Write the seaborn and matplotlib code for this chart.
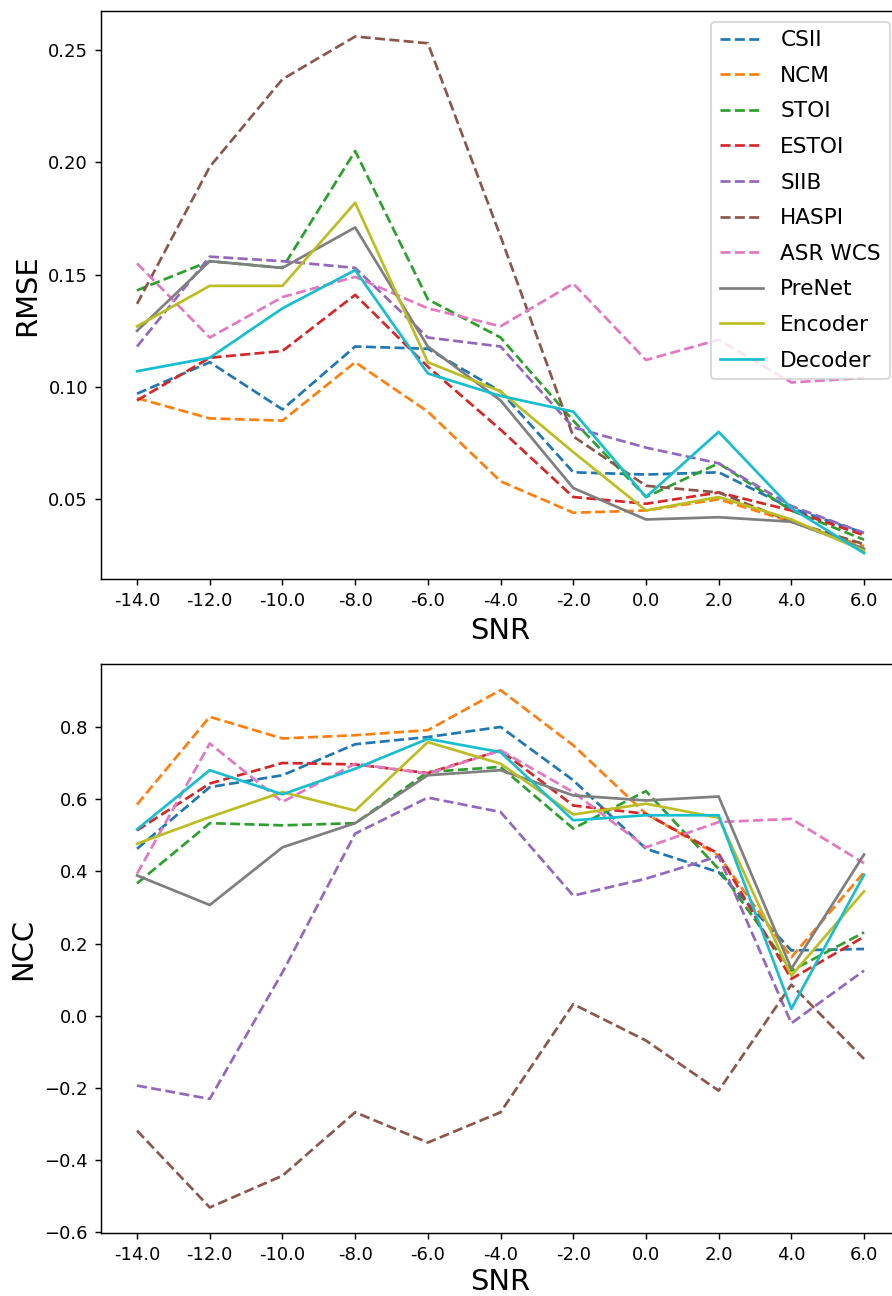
import matplotlib
matplotlib.use("Agg")
import matplotlib.pyplot as plt
import seaborn as sns
import pandas as pd

snr = [-14.0, -12.0, -10.0, -8.0, -6.0, -4.0, -2.0, 0.0, 2.0, 4.0, 6.0]
snr_labels = [f"{v:.1f}" for v in snr]

metrics = ["CSII", "NCM", "STOI", "ESTOI", "SIIB", "HASPI", "ASR WCS", "PreNet", "Encoder", "Decoder"]
dashed_metrics = ["CSII", "NCM", "STOI", "ESTOI", "SIIB", "HASPI", "ASR WCS"]

rmse_csii = [0.097, 0.111, 0.090, 0.118, 0.117, 0.098, 0.062, 0.061, 0.062, 0.046, 0.035]
rmse_ncm = [0.095, 0.086, 0.085, 0.111, 0.089, 0.058, 0.044, 0.045, 0.050, 0.040, 0.029]
rmse_stoi = [0.143, 0.156, 0.153, 0.205, 0.139, 0.122, 0.085, 0.051, 0.066, 0.045, 0.032]
rmse_estoi = [0.094, 0.113, 0.116, 0.141, 0.109, 0.081, 0.051, 0.048, 0.053, 0.045, 0.034]
rmse_siib = [0.118, 0.158, 0.156, 0.153, 0.122, 0.118, 0.082, 0.073, 0.066, 0.047, 0.035]
rmse_haspi = [0.137, 0.198, 0.237, 0.256, 0.253, 0.167, 0.078, 0.056, 0.053, 0.040, 0.030]
rmse_asr = [0.155, 0.122, 0.140, 0.149, 0.135, 0.127, 0.146, 0.112, 0.121, 0.102, 0.104]
rmse_prenet = [0.125, 0.156, 0.153, 0.171, 0.118, 0.094, 0.055, 0.041, 0.042, 0.040, 0.028]
rmse_encoder = [0.127, 0.145, 0.145, 0.182, 0.111, 0.098, 0.071, 0.045, 0.051, 0.041, 0.027]
rmse_decoder = [0.107, 0.113, 0.135, 0.152, 0.106, 0.096, 0.089, 0.051, 0.080, 0.046, 0.026]

ncc_csii = [0.463, 0.634, 0.667, 0.753, 0.773, 0.801, 0.653, 0.463, 0.398, 0.181, 0.185]
ncc_ncm = [0.586, 0.829, 0.769, 0.778, 0.792, 0.903, 0.750, 0.560, 0.444, 0.162, 0.398]
ncc_stoi = [0.367, 0.534, 0.528, 0.534, 0.676, 0.690, 0.519, 0.623, 0.407, 0.125, 0.231]
ncc_estoi = [0.514, 0.644, 0.701, 0.697, 0.673, 0.736, 0.583, 0.560, 0.449, 0.102, 0.219]
ncc_siib = [-0.194, -0.231, 0.120, 0.505, 0.605, 0.565, 0.333, 0.380, 0.442, -0.021, 0.125]
ncc_haspi = [-0.319, -0.532, -0.444, -0.268, -0.352, -0.268, 0.032, -0.069, -0.208, 0.086, -0.120]
ncc_asr = [0.394, 0.755, 0.593, 0.699, 0.671, 0.736, 0.620, 0.467, 0.537, 0.546, 0.423]
ncc_prenet = [0.389, 0.307, 0.467, 0.534, 0.667, 0.681, 0.611, 0.597, 0.608, 0.130, 0.447]
ncc_encoder = [0.477, 0.551, 0.620, 0.569, 0.759, 0.699, 0.558, 0.588, 0.549, 0.111, 0.345]
ncc_decoder = [0.517, 0.681, 0.614, 0.685, 0.768, 0.731, 0.542, 0.556, 0.556, 0.019, 0.391]

rmse = dict(zip(metrics, [rmse_csii, rmse_ncm, rmse_stoi, rmse_estoi, rmse_siib, rmse_haspi,
                          rmse_asr, rmse_prenet, rmse_encoder, rmse_decoder]))
ncc = dict(zip(metrics, [ncc_csii, ncc_ncm, ncc_stoi, ncc_estoi, ncc_siib, ncc_haspi,
                         ncc_asr, ncc_prenet, ncc_encoder, ncc_decoder]))

colors = dict(zip(metrics, sns.color_palette("tab10", 10)))

W, H = 892, 1296
DPI = 130
fig = plt.figure(figsize=(W / DPI, H / DPI), dpi=DPI)

left = 100.7 / W
right = 900.4 / W
ax1 = fig.add_axes([left, 1 - 579 / H, right - left, (579 - 10.7) / H])
ax2 = fig.add_axes([left, 1 - 1233.3 / H, right - left, (1233.3 - 664.3) / H])


def draw(ax, data, ylabel, legend, labelpad=4.0):
    for m in metrics:
        df = pd.DataFrame({"SNR": snr, "val": data[m]})
        sns.lineplot(data=df, x="SNR", y="val", ax=ax, color=colors[m],
                     linestyle="--" if m in dashed_metrics else "-",
                     linewidth=1.5, label=m, legend=False)
    ax.set_xticks(snr)
    ax.set_xticklabels(snr_labels)
    ax.set_xlabel("SNR", fontsize=16, labelpad=labelpad)
    ax.set_ylabel(ylabel, fontsize=16)
    ax.tick_params(labelsize=10)
    if legend:
        ax.legend(loc="upper right", fontsize=12, labelspacing=0.72)


draw(ax1, rmse, "RMSE", True)
draw(ax2, ncc, "NCC", False, labelpad=2.5)
ax1.set_yticks([0.05, 0.10, 0.15, 0.20, 0.25])

fig.savefig("out.png", dpi=DPI)
